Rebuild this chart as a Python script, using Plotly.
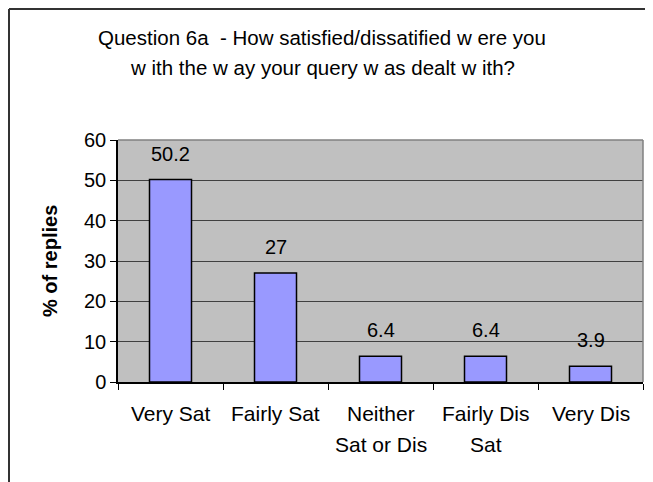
import plotly.graph_objects as go

categories = ['Very Sat', 'Fairly Sat', 'Neither<br>Sat or Dis', 'Fairly Dis<br>Sat', 'Very Dis']
values = [50.2, 27, 6.4, 6.4, 3.9]
value_labels = ['50.2', '27', '6.4', '6.4', '3.9']
title_lines = ['Question 6a  - How satisfied/dissatified w ere you',
               'w ith the w ay your query w as dealt w ith?']
y_ticks = [0, 10, 20, 30, 40, 50, 60]

FONT = 'Liberation Sans, Arial, sans-serif'

# figure is offset 8px by the page body margin, so size it to fill the window
W, H = 645, 474
ML, MR, MT, MB = 110, 10, 132, 100
PW, PH = W - ML - MR, H - MT - MB


def px(x):
    return (x - ML) / PW


def py(y):
    # y measured from top of figure
    return (H - MB - y) / PH


fig = go.Figure()
fig.add_trace(go.Bar(x=list(range(len(categories))),
                     y=values,
                     width=0.4,
                     marker=dict(color='#9999FF', line=dict(color='black', width=1.5)),
                     hoverinfo='skip'))

annotations = []
# value labels above bars
for i, (v, t) in enumerate(zip(values, value_labels)):
    annotations.append(dict(x=i, y=v, xref='x', yref='y', text=t, showarrow=False,
                            yanchor='middle', yshift=26,
                            font=dict(family=FONT, size=20, color='black')))
# category labels, one annotation per line for Excel-like spacing
for i, c in enumerate(categories):
    for j, line in enumerate(c.split('<br>')):
        annotations.append(dict(x=i, y=0, xref='x', yref='paper', text=line,
                                showarrow=False, yanchor='middle',
                                yshift=-31 - 31 * j,
                                font=dict(family=FONT, size=21, color='black')))
# title lines
for j, line in enumerate(title_lines):
    annotations.append(dict(x=px(314), y=py(29 + 30 * j), xref='paper', yref='paper',
                            text=line, showarrow=False, xanchor='center', yanchor='middle',
                            font=dict(family=FONT, size=20.5, color='black')))
# y axis title
annotations.append(dict(x=px(42), y=0.5, xref='paper', yref='paper',
                        text='<b>% of replies</b>', textangle=-90, showarrow=False,
                        xanchor='center', yanchor='middle',
                        font=dict(family=FONT, size=20, color='black')))

fig.update_layout(
    width=W, height=H,
    margin=dict(l=ML, r=MR, t=MT, b=MB),
    paper_bgcolor='white',
    plot_bgcolor='#C0C0C0',
    showlegend=False,
    font=dict(family=FONT, size=20, color='black'),
    xaxis=dict(range=[-0.5, len(categories) - 0.5],
               tickvals=[i + 0.5 for i in range(-1, len(categories))],
               ticktext=['' for _ in range(len(categories) + 1)],
               ticks='outside', ticklen=6, tickcolor='black', tickwidth=1,
               showline=True, linecolor='black', linewidth=1.5,
               showgrid=False, zeroline=False, fixedrange=True),
    yaxis=dict(range=[0, 60], tickvals=y_ticks,
               ticks='outside', ticklen=6, tickcolor='black', tickwidth=1,
               showline=True, linecolor='black', linewidth=1.5,
               showgrid=True, gridcolor='#404040', gridwidth=1,
               zeroline=False, fixedrange=True,
               tickfont=dict(size=20)),
    annotations=annotations,
    shapes=[
        # plot area border (top and right)
        dict(type='line', xref='paper', yref='paper', x0=0, x1=1, y0=1, y1=1,
             line=dict(color='#808080', width=1.5)),
        dict(type='line', xref='paper', yref='paper', x0=1, x1=1, y0=0, y1=1,
             line=dict(color='#808080', width=1.5)),
        # chart frame (left and top), running out of view on right/bottom
        dict(type='line', xref='paper', yref='paper',
             x0=px(1), x1=px(W + 10), y0=py(1), y1=py(1),
             line=dict(color='#333333', width=2)),
        dict(type='line', xref='paper', yref='paper',
             x0=px(1), x1=px(1), y0=py(1), y1=py(H + 10),
             line=dict(color='#333333', width=2)),
    ],
)

fig.write_html("out.html")
